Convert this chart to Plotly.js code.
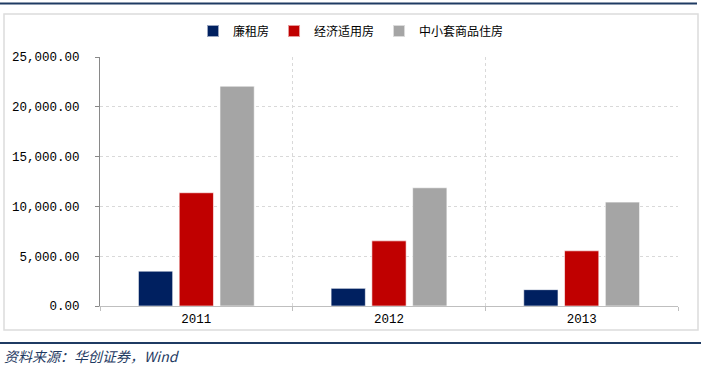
<!DOCTYPE html>
<html>
<head>
<meta charset="utf-8">
<script src="https://cdn.plot.ly/plotly-3.0.1.min.js"></script>
<style>
html,body{margin:0;padding:0;background:#fff;}
#chart{width:702px;height:366px;}
</style>
</head>
<body>
<div id="chart"></div>
<script>
const years = ["2011", "2012", "2013"];
const seriesNames = ["廉租房", "经济适用房", "中小套商品住房"];
const lianzufang = [3500, 1770, 1640];
const jingjishiyong = [11370, 6540, 5540];
const zhongxiaotao = [22070, 11870, 10430];
const yTickVals = [0, 5000, 10000, 15000, 20000, 25000];
const yTickText = ["0.00", "5,000.00", "10,000.00", "15,000.00", "20,000.00", "25,000.00"];
const footerText = "资料来源：华创证券，Wind";

const colors = ["#002060", "#C00000", "#A5A5A5"];
const values = [lianzufang, jingjishiyong, zhongxiaotao];

const W = 702, H = 366, L = 100, R = 678, T = 57, B = 306;
const px = x => (x - L) / (R - L);
const py = y => (B - y) / (B - T);

const traces = values.map((v, i) => ({
  type: "bar",
  name: seriesNames[i],
  x: years,
  y: v,
  marker: {color: colors[i], line: {color: "rgba(255,255,255,0.6)", width: 1}},
  hoverinfo: "skip"
}));

const monoFont = {family: "Liberation Mono, DejaVu Sans Mono, monospace", size: 12.5, color: "#000"};

const layout = {
  width: W, height: H,
  margin: {l: L, r: W - R, t: T, b: H - B, pad: 0},
  paper_bgcolor: "#fff", plot_bgcolor: "#fff",
  barmode: "group",
  bargap: 0.365,
  bargroupgap: 0.16,
  font: {family: "Liberation Serif, DejaVu Serif, serif", size: 11, color: "#000"},
  showlegend: true,
  legend: {
    orientation: "h", x: px(351), xanchor: "center", y: py(31), yanchor: "middle",
    font: {family: "Noto Sans CJK SC, sans-serif", size: 12, color: "#000"},
    itemwidth: 30, traceorder: "normal", itemsizing: "constant"
  },
  xaxis: {
    type: "category",
    tickson: "boundaries",
    ticks: "outside", ticklen: 4, tickcolor: "#bfbfbf",
    showgrid: true, gridcolor: "#d9d9d9", griddash: "dot", gridwidth: 1,
    showline: true, linecolor: "#bfbfbf", linewidth: 1,
    tickfont: monoFont,
    ticklabelstandoff: 1,
    fixedrange: true
  },
  yaxis: {
    range: [0, 25000],
    tickvals: yTickVals, ticktext: yTickText,
    ticks: "outside", ticklen: 4, tickcolor: "#898989",
    showgrid: true, gridcolor: "#d9d9d9", griddash: "dot", gridwidth: 1,
    showline: true, linecolor: "#898989", linewidth: 1,
    zeroline: false,
    ticklabelstandoff: 13,
    tickfont: monoFont,
    fixedrange: true
  },
  shapes: [
    {type: "line", xref: "paper", yref: "paper", x0: px(0), x1: px(697), y0: py(3.5), y1: py(3.5),
     line: {color: "#1f3b63", width: 2}},
    {type: "rect", xref: "paper", yref: "paper", x0: px(4), x1: px(698), y0: py(330), y1: py(14),
     line: {color: "#dcdcdc", width: 1.5}},
    {type: "line", xref: "paper", yref: "paper", x0: px(0), x1: px(701), y0: py(343), y1: py(343),
     line: {color: "#1f3b63", width: 2}}
  ],
  annotations: [
    {xref: "paper", yref: "paper", x: px(2), y: py(356), xanchor: "left", yanchor: "middle",
     text: "<i>" + footerText + "</i>", showarrow: false,
     font: {family: "Noto Sans CJK SC, sans-serif", size: 14, color: "#1f3b63"}}
  ]
};

Plotly.newPlot("chart", traces, layout, {displayModeBar: false, staticPlot: true});
</script>
</body>
</html>
